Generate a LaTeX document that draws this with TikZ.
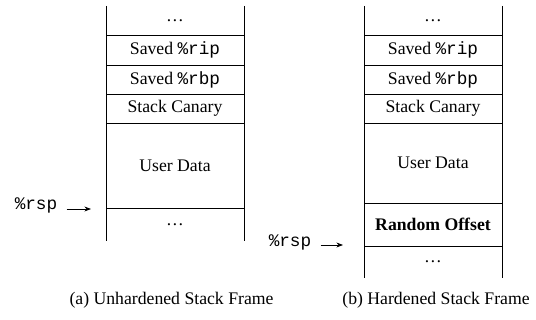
\documentclass[tikz,border=0pt]{standalone}
\usepackage{fontspec}
\setmainfont{Liberation Serif}
\setmonofont{Liberation Mono}
\usetikzlibrary{positioning,arrows.meta}

\tikzset{
  cell/.style={draw, minimum width=138pt, inner sep=0pt, outer sep=0pt},
  dots/.style={minimum width=138pt, inner sep=0pt, outer sep=0pt},
  reg/.style={font=\fontsize{17.7}{20}\selectfont\ttfamily, inner sep=3pt},
  ptr/.style={-Stealth, shorten <=6pt},
}

\begin{document}
\begin{tikzpicture}[x=1pt,y=-1pt,line width=0.8pt,font=\fontsize{17.7}{20}\selectfont]
\useasboundingbox (0,0) rectangle (536,320);

% unhardened frame
\node[dots, minimum height=29pt, anchor=north] (ltop) at (175,6) {\dots};
\node[cell, minimum height=30pt, below=0pt of ltop] (lrip) {Saved \texttt{\%rip}};
\node[cell, minimum height=29pt, below=0pt of lrip] (lrbp) {Saved \texttt{\%rbp}};
\node[cell, minimum height=29pt, below=0pt of lrbp] (lcan) {Stack Canary};
\node[cell, minimum height=85pt, below=0pt of lcan] (ldata) {User Data};
\node[dots, minimum height=33pt, below=0pt of ldata] (lbot) {\dots};
\draw (ltop.north west) -- (lbot.south west);
\draw (ltop.north east) -- (lbot.south east);

\node[reg] (lrsp) at (36,205) {\%rsp};
\coordinate (lptr) at (91,209);
\draw[ptr] (lrsp.east |- lptr) -- (lptr);

% hardened frame
\node[dots, minimum height=29pt, anchor=north] (rtop) at (433,6) {\dots};
\node[cell, minimum height=30pt, below=0pt of rtop] (rrip) {Saved \texttt{\%rip}};
\node[cell, minimum height=29pt, below=0pt of rrip] (rrbp) {Saved \texttt{\%rbp}};
\node[cell, minimum height=29pt, below=0pt of rrbp] (rcan) {Stack Canary};
\node[cell, minimum height=80pt, below=0pt of rcan] (rdata) {User Data};
\node[cell, minimum height=43pt, below=0pt of rdata] (roff) {\textbf{Random Offset}};
\node[dots, minimum height=32pt, below=0pt of roff] (rbot) {\dots};
\draw (rtop.north west) -- (rbot.south west);
\draw (rtop.north east) -- (rbot.south east);

\node[reg] (rrsp) at (290,242) {\%rsp};
\coordinate (rptr) at (343,245);
\draw[ptr] (rrsp.east |- rptr) -- (rptr);

% captions
\node (lcap) at (171.5,300) {(a) Unhardened Stack Frame};
\node (rcap) at (436,300) {(b) Hardened Stack Frame};
\end{tikzpicture}
\end{document}
